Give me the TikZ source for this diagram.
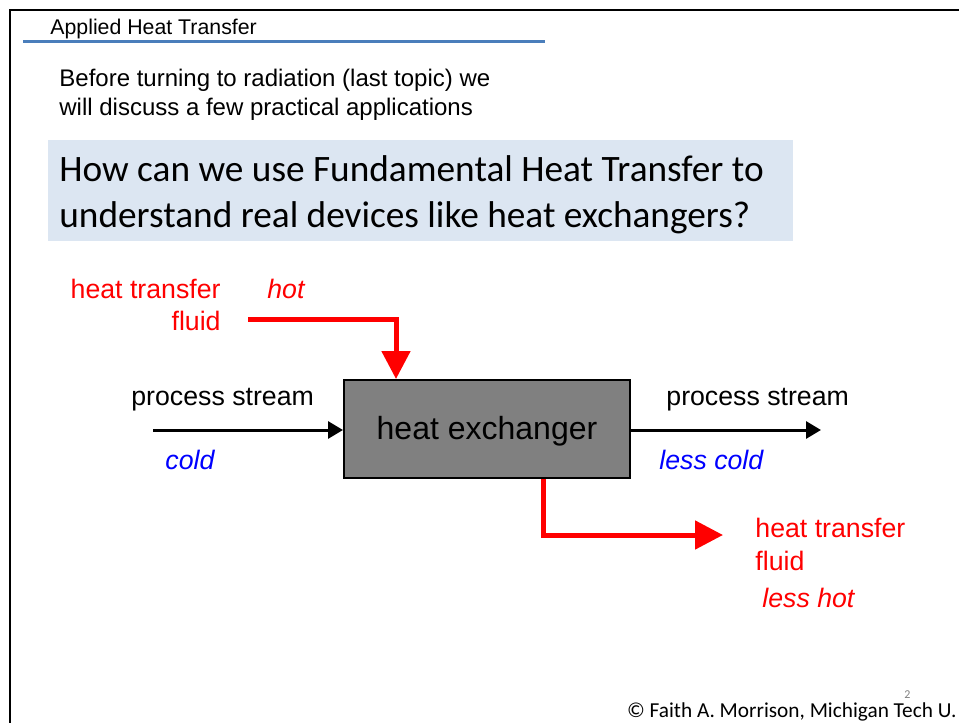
\documentclass[tikz,border=0pt]{standalone}
\usepackage{fontspec}
\setmainfont{Liberation Sans}
\newfontfamily\calibri{Carlito}
\usetikzlibrary{arrows.meta}
\definecolor{qblue}{RGB}{220,230,242}
\definecolor{ruleblue}{RGB}{74,126,187}
\definecolor{hxgray}{RGB}{128,128,128}

\begin{document}
\begin{tikzpicture}
    [x=1pt,y=-1pt,thick,
     txt/.style={inner sep=0pt,anchor=base west},
     lbl/.style={txt,font=\fontsize{26.7}{30}\selectfont},
     hotlbl/.style={lbl,text=red},
     coldlbl/.style={lbl,text=blue,font=\fontsize{26.7}{30}\selectfont\itshape},
     stream/.style={line width=3pt,-{Triangle[length=15pt,width=17pt]}},
     hotline/.style={red,line width=5pt,-{Triangle[length=28pt,width=28pt]}}]
    \useasboundingbox (0,0) rectangle (959,723);

    %Frame
    \draw[line width=2.5pt] (10,723) -- (10,10) -- (959,10);
    \node[txt,font=\fontsize{21.3}{24}\selectfont] (title) at (50,34.5) {Applied Heat Transfer};
    \draw[ruleblue,line width=3pt] (23,41) -- (545,41);

    %Intro
    \node[txt,font=\fontsize{24}{28}\selectfont] (introA) at (59,86) {Before turning to radiation (last topic) we};
    \node[txt,font=\fontsize{24}{28}\selectfont] (introB) at (59,115) {will discuss a few practical applications};

    %Question
    \node[fill=qblue,anchor=north west,minimum width=745pt,minimum height=101pt,inner sep=0pt] (question) at (48,140) {};
    \node[txt,font=\calibri\fontsize{37.3}{44}\selectfont] (qA) at (59,181) {How can we use Fundamental Heat Transfer to};
    \node[txt,font=\calibri\fontsize{37.3}{44}\selectfont] (qB) at (59,227) {understand real devices like heat exchangers?};

    %Nodes
    \node[draw,fill=hxgray,line width=2pt,minimum width=286pt,minimum height=98pt,
          text depth=2pt,font=\fontsize{32}{36}\selectfont] (hx) at (487,429) {heat exchanger};
    \coordinate (coldin) at (153,430);
    \coordinate (coldout) at (821,430);
    \coordinate (hotin) at (248,319);
    \coordinate (hotout) at (723,535);

    \node[lbl] (psin) at (131,405) {process stream};
    \node[lbl] (psout) at (666,405) {process stream};
    \node[coldlbl] (cold) at (165,469) {cold};
    \node[coldlbl] (lesscold) at (659,469) {less cold};
    \node[hotlbl,anchor=base east] (htfin) at (221,298) {heat transfer};
    \node[hotlbl,anchor=base east] (fluidin) at (221,330) {fluid};
    \node[hotlbl,font=\fontsize{26.7}{30}\selectfont\itshape] (hot) at (267,298) {hot};
    \node[hotlbl] (htfout) at (755,537) {heat transfer};
    \node[hotlbl] (fluidout) at (755,570) {fluid};
    \node[hotlbl,font=\fontsize{26.7}{30}\selectfont\itshape] (lesshot) at (762,607) {less hot};

    %Edges
    \draw[stream] (coldin) -- (coldin -| hx.west);
    \draw[stream] (hx.east |- coldout) -- (coldout);
    \draw[hotline] (hotin) -| ([xshift=-91pt]hx.north);
    \draw[hotline] ([xshift=56pt]hx.south) |- (hotout);

    %Footer
    \node[txt,text=gray,font=\calibri\fontsize{12}{14}\selectfont] (page) at (904,698) {2};
    \node[txt,anchor=base east,font=\calibri\fontsize{21.3}{24}\selectfont] (credit) at (957,717) {© Faith A. Morrison, Michigan Tech U.};

\end{tikzpicture}
\end{document}
